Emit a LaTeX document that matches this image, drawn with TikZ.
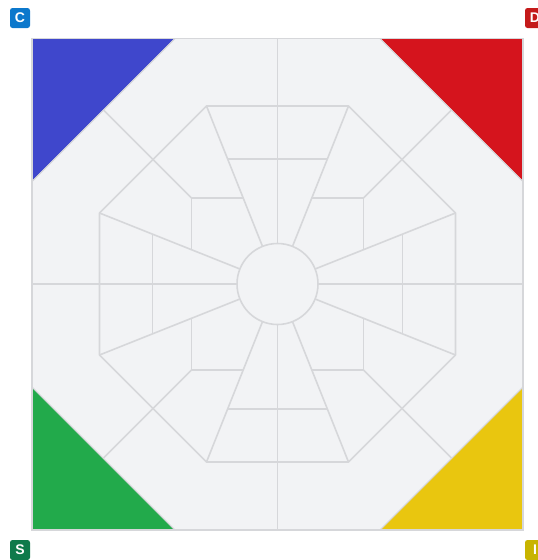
\documentclass[tikz,border=0pt]{standalone}
\usepackage{fontspec}
\setsansfont{Liberation Sans}
\usetikzlibrary{calc}
\definecolor{bdink}{HTML}{D6D7DA}
\definecolor{bdpale}{HTML}{F2F3F5}
\definecolor{bdblue}{HTML}{3F47CC}
\definecolor{bdred}{HTML}{D5141D}
\definecolor{bdgreen}{HTML}{22AA4B}
\definecolor{bdyellow}{HTML}{E9C60F}
\definecolor{bdtagc}{HTML}{0C78CC}
\definecolor{bdtagd}{HTML}{C41A1A}
\definecolor{bdtags}{HTML}{0E7A4B}
\definecolor{bdtagi}{HTML}{C8B400}
\tikzset{
  bd board/.style={fill=bdpale},
  bd frame/.style={draw=bdink, line width=1.6pt},
  bd line/.style={draw=bdink, line width=1.6pt, line join=round},
  bd corner/.style={draw=bdink, line width=0.8pt},
  bd badge/.style={rounded corners=2.5pt, minimum size=20pt, inner sep=0pt,
    font=\sffamily\bfseries\fontsize{14}{14}\selectfont, text=white}
}

\begin{document}
\begin{tikzpicture}[x=1pt, y=-1pt]
  \useasboundingbox (0,0) rectangle (538,560);
  \clip (0,0) rectangle (538,560);
  \coordinate (ctr) at (277.5,284);
  \fill[bd board] (32,38.5) rectangle (523,530);
  % coloured corners
  \fill[bdblue, bd corner] (32,38.5) -- (175,38.5) -- (32,181.5) -- cycle;
  \fill[bdred, bd corner] (523,38.5) -- (380,38.5) -- (523,181.5) -- cycle;
  \fill[bdgreen, bd corner] (32,530) -- (175,530) -- (32,387) -- cycle;
  \fill[bdyellow, bd corner] (523,530) -- (380,530) -- (523,387) -- cycle;
  \draw[bd corner] (175,38.5) -- (32,181.5) (380,38.5) -- (523,181.5)
    (175,530) -- (32,387) (380,530) -- (523,387);
  \draw[bd frame] (32,38.5) rectangle (523,530);
  % spokes and rings
  \begin{scope}[shift={(ctr)}]
    \draw[bd line] (-71,-178) -- (71,-178) -- (178,-71) -- (178,71) -- (71,178)
      -- (-71,178) -- (-178,71) -- (-178,-71) -- cycle;
    \foreach \r in {0,90,180,270} {
      \begin{scope}[rotate=\r]
        \draw[bd line] (0,-245.5) -- (0,-40.5);
        \draw[bd line] (71,-178) -- (15,-37.6);
        \draw[bd line] (178,-71) -- (37.6,-15);
        \draw[bd line] (-49.9,-125) -- (49.9,-125);
        \draw[bd line] (174,-174) -- (86,-86);
        \draw[bd line] (34.3,-86) -- (86,-86) -- (86,-34.3);
      \end{scope}
    }
    \draw[bd line, fill=bdpale] (0,0) circle[radius=40.5];
  \end{scope}
  % player tags
  \node[bd badge, fill=bdtagc] (tagc) at (20,18) {C};
  \node[bd badge, fill=bdtagd] (tagd) at (535,18) {D};
  \node[bd badge, fill=bdtags] (tags) at (20,550) {S};
  \node[bd badge, fill=bdtagi] (tagi) at (535,550) {I};
\end{tikzpicture}
\end{document}
